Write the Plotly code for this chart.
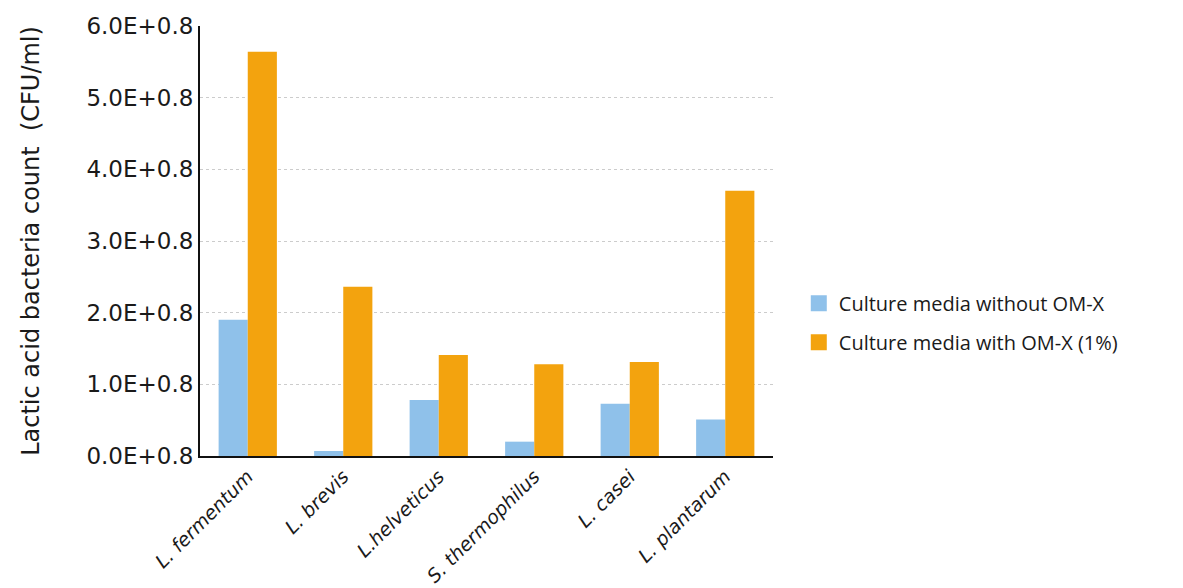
import plotly.graph_objects as go

categories = ["L. fermentum", "L. brevis", "L.helveticus", "S. thermophilus", "L. casei", "L. plantarum"]
without_omx = [1.90, 0.07, 0.78, 0.20, 0.73, 0.51]
with_omx = [5.64, 2.36, 1.41, 1.28, 1.31, 3.70]
series_names = ["Culture media without OM-X", "Culture media with OM-X (1%)"]
series_colors = ["#8FC1EA", "#F3A30E"]
tick_vals = [0, 1, 2, 3, 4, 5, 6]
tick_text = ["0.0E+0.8", "1.0E+0.8", "2.0E+0.8", "3.0E+0.8", "4.0E+0.8", "5.0E+0.8", "6.0E+0.8"]

fig = go.Figure()
for vals, name, col, grp in zip([without_omx, with_omx], series_names, series_colors, ["a", "b"]):
    fig.add_trace(go.Bar(x=categories, y=vals, name=name, showlegend=False,
                         marker=dict(color=col, line=dict(width=0)), legendgroup=grp))
    # legend swatch (larger square)
    fig.add_trace(go.Scatter(x=[None], y=[None], mode="markers", name=name, legendgroup=grp,
                             marker=dict(symbol="square", size=16, color=col)))

fig.update_layout(
    width=1183, height=588,
    margin=dict(l=200, r=410, t=26, b=132),
    paper_bgcolor="white", plot_bgcolor="white",
    barmode="group", bargap=0.39, bargroupgap=0,
    font=dict(family="DejaVu Sans", color="#1a1a1a"),
    legend=dict(x=1.045, y=0.31, xanchor="left", yanchor="middle",
                font=dict(family="Open Sans", size=20, color="#1a1a1a"),
                tracegroupgap=10, itemsizing="trace", itemwidth=30),
    xaxis=dict(tickangle=-45, tickfont=dict(family="DejaVu Sans", size=19, style="italic", color="#1a1a1a"),
               showline=True, linecolor="#111", linewidth=2, ticks="", showgrid=False,
               automargin=False),
    yaxis=dict(range=[0, 6], tickvals=tick_vals, ticktext=tick_text,
               tickfont=dict(family="DejaVu Sans", size=23, color="#1a1a1a"),
               showline=True, linecolor="#111", linewidth=2, ticks="",
               showgrid=True, gridcolor="#cccccc", griddash="dot", gridwidth=1,
               zeroline=False,
               title=dict(text="Lactic acid bacteria count  (CFU/ml)",
                          font=dict(family="DejaVu Sans", size=24, color="#1a1a1a"),
                          standoff=40),
               automargin=True),
)

fig.write_html("out.html")
